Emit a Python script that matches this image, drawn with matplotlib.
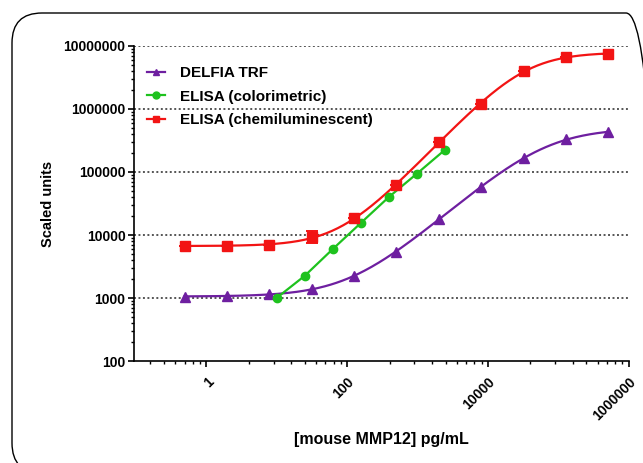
import numpy as np
import matplotlib
matplotlib.use("Agg")
import matplotlib.pyplot as plt
from matplotlib.patches import FancyBboxPatch
from matplotlib.transforms import IdentityTransform
from matplotlib.ticker import FixedLocator, NullFormatter, LogLocator

plt.rcParams['font.family'] = ['Liberation Sans', 'DejaVu Sans']
plt.rcParams['font.weight'] = 'bold'

# data
conc = [0.49, 1.95, 7.8, 31.25, 125, 500, 2000, 8000, 32000, 128000, 512000]
delfia = [1050, 1080, 1150, 1400, 2250, 5400, 17900, 58000, 166000, 330000, 430000]
chemi = [6800, 6700, 6900, 9300, 18600, 62000, 300000, 1200000, 4000000, 6700000, 7400000]
chemi_err_lo = [0, 0, 0, 1900, 0, 0, 0, 0, 0, 0, 0]
chemi_err_hi = [0, 0, 0, 2300, 0, 0, 0, 0, 0, 0, 0]
colo_conc = [10, 25, 62.5, 156, 390, 977, 2440]
colo = [1010, 2260, 6000, 15500, 40000, 94000, 224000]

xticks = [1, 100, 10000, 1000000]
xtick_labels = ['1', '100', '10000', '1000000']
yticks = [100, 1000, 10000, 100000, 1000000, 10000000]

purple = '#6e1fa0'
green = '#1ec21e'
red = '#f21414'


def fit_4pl(x, y, n=300):
    # four-parameter logistic fit: grid over EC50 and slope,
    # bottom/top solved by weighted least squares
    x = np.asarray(x, float)
    y = np.asarray(y, float)
    le, hs = np.meshgrid(np.arange(0.5, 6.5, 0.01), np.arange(0.4, 2.5, 0.01))
    le = le.ravel()[:, None]
    hs = hs.ravel()[:, None]
    f = 1.0 / (1.0 + 10 ** ((le - np.log10(x)[None, :]) * hs))
    a1 = (1 - f) / y
    a2 = f / y
    s11 = (a1 * a1).sum(1)
    s12 = (a1 * a2).sum(1)
    s22 = (a2 * a2).sum(1)
    r1 = a1.sum(1)
    r2 = a2.sum(1)
    det = s11 * s22 - s12 ** 2
    bot = (r1 * s22 - r2 * s12) / det
    top = (s11 * r2 - s12 * r1) / det
    model = bot[:, None] * (1 - f) + top[:, None] * f
    model = np.where(model > 0, model, 1e-9)
    err = ((np.log10(model) - np.log10(y)[None, :]) ** 2).sum(1)
    k = np.argmin(err)
    xs = np.logspace(np.log10(x[0]), np.log10(x[-1]), n)
    fs = 1.0 / (1.0 + 10 ** ((le[k, 0] - np.log10(xs)) * hs[k, 0]))
    return xs, bot[k] + (top[k] - bot[k]) * fs


fig = plt.figure(figsize=(6.43, 4.63), dpi=100)
ax = fig.add_axes([0.208, 0.220, 0.770, 0.681])
ax.set_xscale('log')
ax.set_yscale('log')

# dotted horizontal grid
for yv in yticks[1:]:
    ax.axhline(yv, color='#555555', lw=1.4, ls=(0, (1, 1.3)), zorder=1)

# fitted curves
fx, fy = fit_4pl(conc, delfia)
ax.plot(fx, fy, color=purple, lw=1.6, zorder=3)
fx, fy = fit_4pl(conc, chemi)
ax.plot(fx, fy, color=red, lw=1.6, zorder=3)

ax.plot(conc, delfia, ls='none', marker='^', ms=6.5, color=purple, zorder=4)
ax.plot(colo_conc, colo, color=green, lw=1.6, marker='o', ms=6, zorder=4)
ax.errorbar(conc, chemi, yerr=[chemi_err_lo, chemi_err_hi], ls='none', marker='s',
            ms=7, color=red, capsize=4, elinewidth=1.4, capthick=1.4, zorder=5)

# legend handles
h1, = ax.plot([], [], color=purple, lw=1.6, marker='^', ms=5)
h2, = ax.plot([], [], color=green, lw=1.6, marker='o', ms=5)
h3, = ax.plot([], [], color=red, lw=1.6, marker='s', ms=5)
ax.legend([h1, h2, h3], ['DELFIA TRF', 'ELISA (colorimetric)', 'ELISA (chemiluminescent)'],
          loc='upper left', bbox_to_anchor=(0.026, 0.935), frameon=False,
          fontsize=11, handlelength=1.2, handletextpad=1.0, labelspacing=0.62,
          borderaxespad=0, borderpad=0)

ax.set_xlim(0.093, 1000000)
ax.set_ylim(100, 10000000)

ax.xaxis.set_major_locator(FixedLocator(xticks))
ax.set_xticklabels(xtick_labels, rotation=45, ha='right', va='top',
                   rotation_mode='anchor', fontsize=10, fontweight='bold')
minors = []
for base in [0.01, 1, 100, 10000]:
    for k in range(2, 10):
        minors.append(base * k * k)
ax.xaxis.set_minor_locator(FixedLocator(minors))
ax.xaxis.set_minor_formatter(NullFormatter())

ax.yaxis.set_major_locator(FixedLocator(yticks))
ax.set_yticklabels([str(v) for v in yticks], fontsize=10, fontweight='bold')
ax.yaxis.set_minor_locator(LogLocator(base=10, subs=np.arange(2, 10)))
ax.yaxis.set_minor_formatter(NullFormatter())

ax.tick_params(which='major', length=4, width=1.2, pad=2)
ax.tick_params(which='minor', length=2.5, width=1.0)
ax.tick_params(axis='x', which='major', pad=6)

for s in ['top', 'right']:
    ax.spines[s].set_visible(False)
for s in ['left', 'bottom']:
    ax.spines[s].set_linewidth(1.2)

ax.set_xlabel('[mouse MMP12] pg/mL', fontsize=11.5, fontweight='bold', labelpad=6)
ax.set_ylabel('Scaled units', fontsize=10.5, fontweight='bold', labelpad=6)

# rounded frame around the whole figure
box = FancyBboxPatch((12, -10), 644, 460, boxstyle='round,pad=0,rounding_size=30',
                     transform=IdentityTransform(), fill=False, edgecolor='black',
                     lw=1.0, clip_on=False)
fig.patches.append(box)

fig.savefig('out.png', dpi=100)
